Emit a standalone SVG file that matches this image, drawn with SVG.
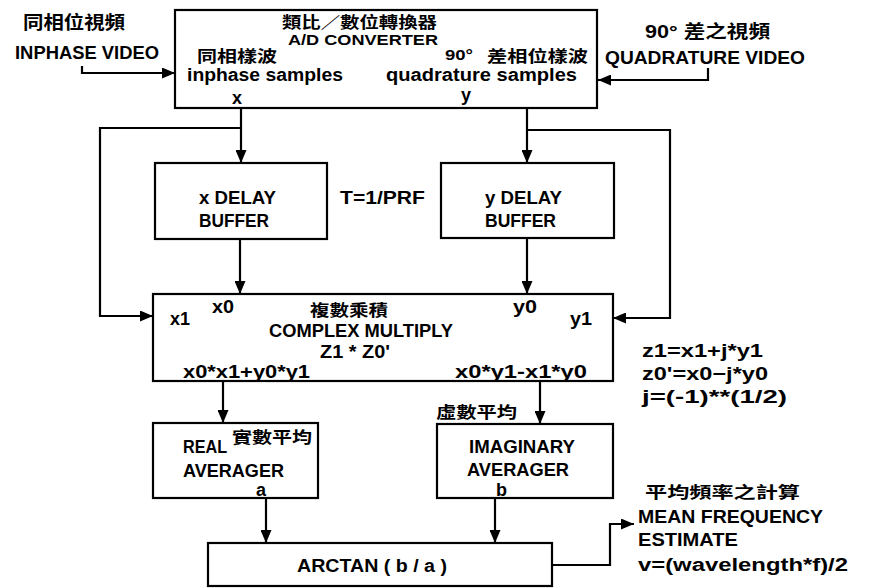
<svg xmlns="http://www.w3.org/2000/svg" width="885" height="588" viewBox="0 0 885 588">
<style>
.t{font-family:"Liberation Sans","DejaVu Sans",sans-serif;font-weight:bold;font-size:18px;fill:#000}
.s{font-size:15px}
.c{font-family:"Liberation Sans","Noto Sans CJK TC",sans-serif;font-weight:bold;font-size:18px;fill:#000}
.cs{font-size:16px}
.box{fill:#fff;stroke:#000;stroke-width:2.2}
.ln{fill:none;stroke:#000;stroke-width:2.2;marker-end:url(#ah)}
</style>
<defs>
<marker id="ah" markerUnits="userSpaceOnUse" markerWidth="13" markerHeight="11" viewBox="0 0 13 11" refX="13" refY="5.5" orient="auto">
<path d="M0,0 L13,5.5 L0,11 Z" fill="#000"/>
</marker>
</defs>
<rect width="885" height="588" fill="#fff"/>

<g id="inphase-input">
<text class="c" x="23" y="29" textLength="102" lengthAdjust="spacingAndGlyphs">同相位視頻</text>
<text class="t" x="15" y="59" textLength="144" lengthAdjust="spacingAndGlyphs">INPHASE VIDEO</text>
</g>
<g id="quadrature-input">
<text class="c" x="645" y="38" textLength="125" lengthAdjust="spacingAndGlyphs">90° 差之視頻</text>
<text class="t" x="605" y="64" textLength="200" lengthAdjust="spacingAndGlyphs">QUADRATURE VIDEO</text>
</g>

<g id="ad-converter">
<rect class="box" x="175" y="10" width="422" height="98"/>
<text class="c cs" x="282" y="28" textLength="155" lengthAdjust="spacingAndGlyphs">類比／數位轉換器</text>
<text class="t s" x="288" y="45" textLength="150" lengthAdjust="spacingAndGlyphs">A/D CONVERTER</text>
<text class="c cs" x="197" y="62" textLength="80" lengthAdjust="spacingAndGlyphs">同相樣波</text>
<text class="t s" x="445" y="60" textLength="28" lengthAdjust="spacingAndGlyphs">90°</text>
<text class="c cs" x="487" y="62" textLength="101" lengthAdjust="spacingAndGlyphs">差相位樣波</text>
<text class="t" x="187" y="81" textLength="156" lengthAdjust="spacingAndGlyphs">inphase samples</text>
<text class="t" x="386" y="81" textLength="191" lengthAdjust="spacingAndGlyphs">quadrature samples</text>
<text class="t" x="232" y="104">x</text>
<text class="t" x="461" y="101">y</text>
</g>

<g id="x-delay">
<rect class="box" x="155" y="163" width="172" height="76"/>
<text class="t" x="199" y="204" textLength="77" lengthAdjust="spacingAndGlyphs">x DELAY</text>
<text class="t" x="199" y="227" textLength="70" lengthAdjust="spacingAndGlyphs">BUFFER</text>
</g>
<g id="period-label">
<text class="t" x="340" y="204" textLength="85" lengthAdjust="spacingAndGlyphs">T=1/PRF</text>
</g>
<g id="y-delay">
<rect class="box" x="441" y="163" width="173" height="75"/>
<text class="t" x="485" y="204" textLength="77" lengthAdjust="spacingAndGlyphs">y DELAY</text>
<text class="t" x="485" y="227" textLength="71" lengthAdjust="spacingAndGlyphs">BUFFER</text>
</g>

<g id="complex-multiply">
<rect class="box" x="153" y="294" width="460" height="87"/>
<text class="t" x="170" y="325" textLength="20" lengthAdjust="spacingAndGlyphs">x1</text>
<text class="t" x="212" y="313" textLength="22" lengthAdjust="spacingAndGlyphs">x0</text>
<text class="c cs" x="310" y="316" textLength="78" lengthAdjust="spacingAndGlyphs">複數乘積</text>
<text class="t" x="269" y="337" textLength="184" lengthAdjust="spacingAndGlyphs">COMPLEX MULTIPLY</text>
<text class="t" x="320" y="358" textLength="70" lengthAdjust="spacingAndGlyphs">Z1 * Z0'</text>
<text class="t" x="513" y="313" textLength="24" lengthAdjust="spacingAndGlyphs">y0</text>
<text class="t" x="570" y="325" textLength="22" lengthAdjust="spacingAndGlyphs">y1</text>
<text class="t" x="183" y="378" textLength="127" lengthAdjust="spacingAndGlyphs">x0*x1+y0*y1</text>
<text class="t" x="455" y="378" textLength="132" lengthAdjust="spacingAndGlyphs">x0*y1-x1*y0</text>
</g>

<g id="equations">
<text class="t" x="642" y="357" textLength="121" lengthAdjust="spacingAndGlyphs">z1=x1+j*y1</text>
<text class="t" x="642" y="380" textLength="126" lengthAdjust="spacingAndGlyphs">z0'=x0−j*y0</text>
<text class="t" x="642" y="403" textLength="145" lengthAdjust="spacingAndGlyphs">j=(-1)**(1/2)</text>
</g>

<g id="real-averager">
<rect class="box" x="153" y="423" width="165" height="75"/>
<text class="t" x="183" y="453" textLength="44" lengthAdjust="spacingAndGlyphs">REAL</text>
<text class="c cs" x="232" y="443" textLength="80" lengthAdjust="spacingAndGlyphs">實數平均</text>
<text class="t" x="183" y="477" textLength="101" lengthAdjust="spacingAndGlyphs">AVERAGER</text>
<text class="t" x="256" y="496">a</text>
</g>

<g id="imaginary-averager">
<text class="c cs" x="436" y="418" textLength="81" lengthAdjust="spacingAndGlyphs">虛數平均</text>
<rect class="box" x="437" y="424" width="176" height="74"/>
<text class="t" x="469" y="453" textLength="106" lengthAdjust="spacingAndGlyphs">IMAGINARY</text>
<text class="t" x="467" y="476" textLength="102" lengthAdjust="spacingAndGlyphs">AVERAGER</text>
<text class="t" x="496" y="496">b</text>
</g>

<g id="arctan">
<rect class="box" x="208" y="543" width="344" height="43"/>
<text class="t" x="297" y="572" textLength="150" lengthAdjust="spacingAndGlyphs">ARCTAN ( b / a )</text>
</g>

<g id="output">
<text class="c cs" x="645" y="498" textLength="155" lengthAdjust="spacingAndGlyphs">平均頻率之計算</text>
<text class="t" x="638" y="523" textLength="185" lengthAdjust="spacingAndGlyphs">MEAN FREQUENCY</text>
<text class="t" x="638" y="546" textLength="100" lengthAdjust="spacingAndGlyphs">ESTIMATE</text>
<text class="t" x="638" y="571" textLength="210" lengthAdjust="spacingAndGlyphs">v=(wavelength*f)/2</text>
</g>

<g id="connectors">
<path class="ln" d="M82,66 V73 H175"/>
<path class="ln" d="M708,68 V80 H598"/>
<path class="ln" d="M241,108 V163"/>
<path class="ln" d="M241,128 H100 V316 H153"/>
<path class="ln" d="M527,108 V163"/>
<path class="ln" d="M527,130 H670 V318 H613"/>
<path class="ln" d="M240,239 V294"/>
<path class="ln" d="M527,238 V294"/>
<path class="ln" d="M223,381 V423"/>
<path class="ln" d="M540,381 V424"/>
<path class="ln" d="M266,498 V543"/>
<path class="ln" d="M495,498 V543"/>
<path class="ln" d="M552,565 H610 V524 H634"/>
</g>
</svg>
